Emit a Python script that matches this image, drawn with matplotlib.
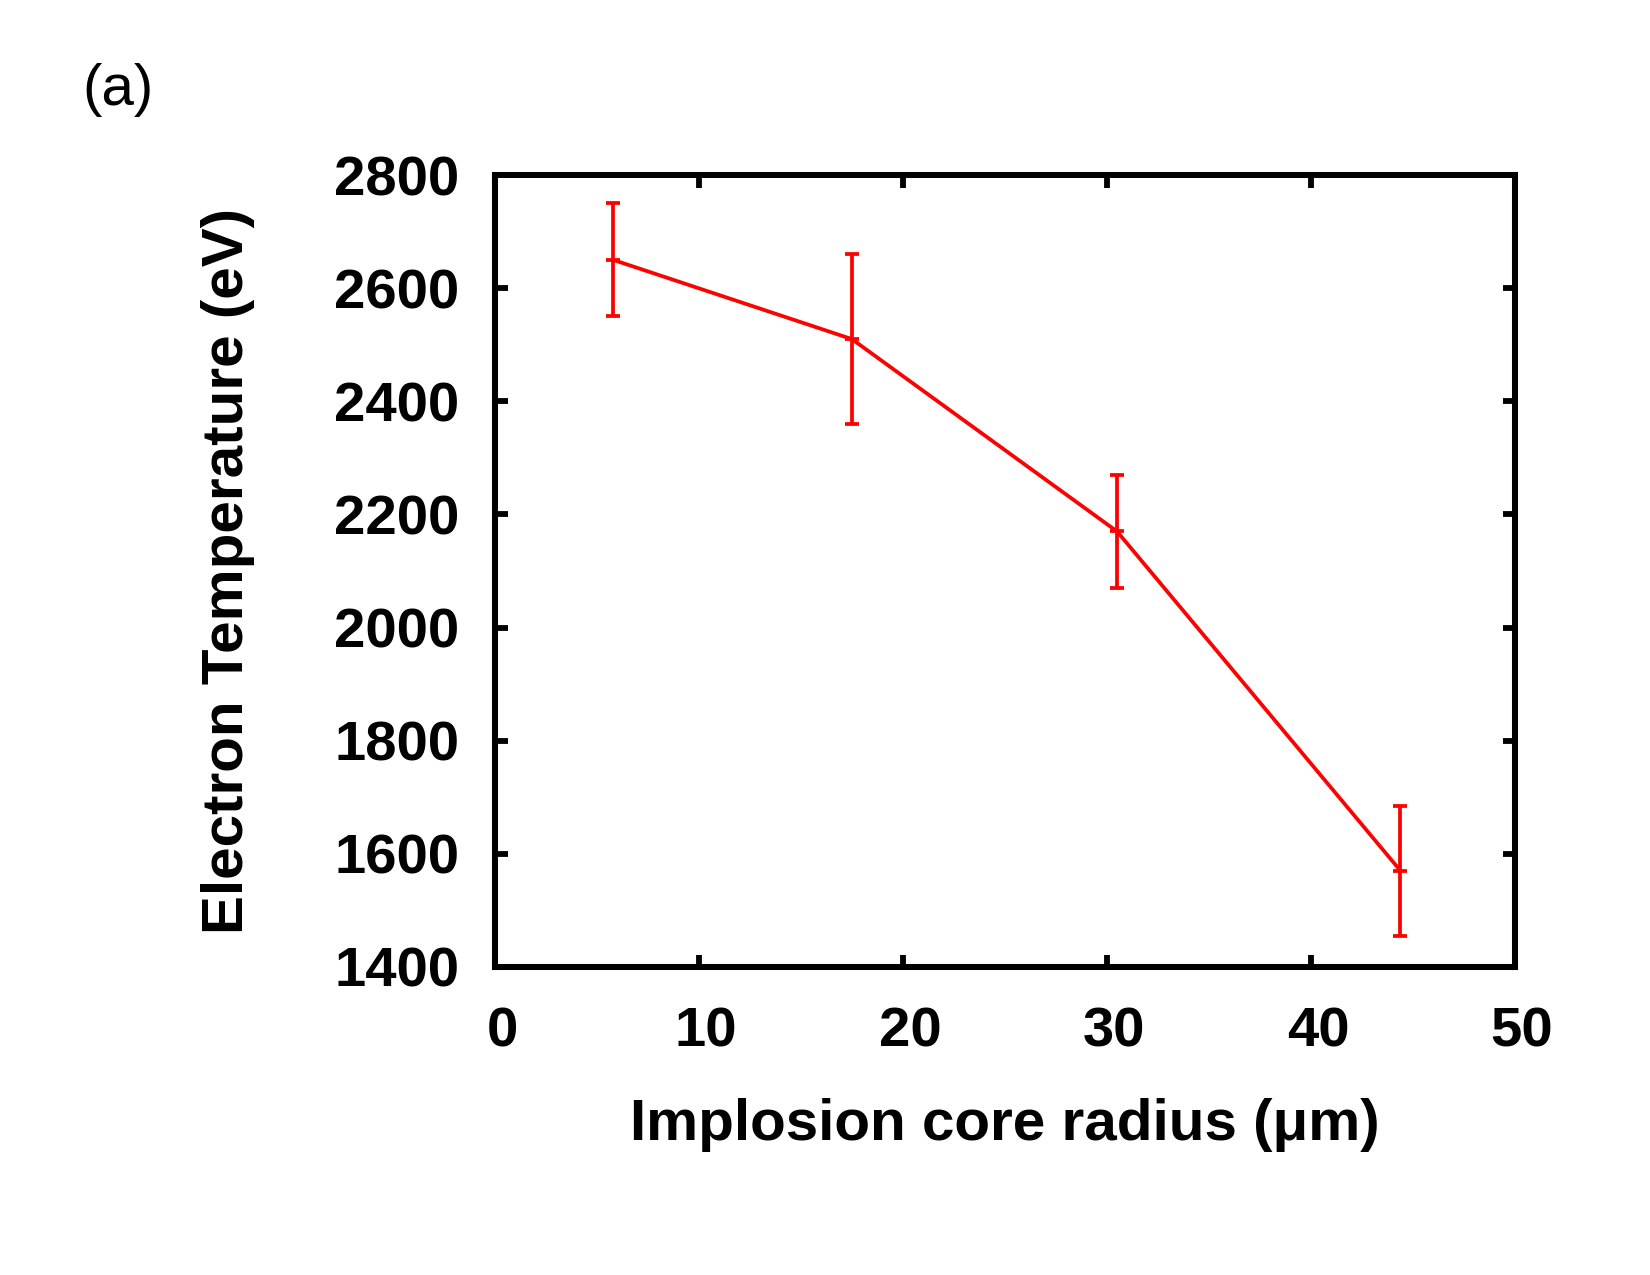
import matplotlib
matplotlib.use("Agg")
import matplotlib.pyplot as plt
import matplotlib.transforms as mtransforms

# core radius (um) vs electron temperature (eV)
radius = [5.8, 17.5, 30.5, 44.4]
temperature = [2650, 2510, 2170, 1570]
temp_err = [100, 150, 100, 115]

x_ticks = [0, 10, 20, 30, 40, 50]
y_ticks = [1400, 1600, 1800, 2000, 2200, 2400, 2600, 2800]

plt.rcParams["font.family"] = ["Liberation Sans", "DejaVu Sans"]

fig = plt.figure(figsize=(11, 8.5), dpi=150)
ax = fig.add_axes([0.3, 0.2416, 0.618, 0.6211])

ax.errorbar(radius, temperature, yerr=temp_err, color="red", lw=1.8,
            elinewidth=1.8, capsize=3.5, capthick=1.8,
            marker="_", markersize=7, markeredgewidth=1.8)

ax.set_xlim(0, 50)
ax.set_ylim(1400, 2800)
ax.set_xticks(x_ticks)
ax.set_yticks(y_ticks)
ax.tick_params(direction="in", length=6, width=2.8, top=True, right=True,
               labelsize=27, pad=17)
ax.tick_params(axis="x", pad=19)
for lab in ax.get_xticklabels() + ax.get_yticklabels():
    lab.set_fontweight("bold")
# x tick labels sit slightly right of their ticks in the original
shift = mtransforms.ScaledTranslation(3.5 / 72, 0, fig.dpi_scale_trans)
for lab in ax.get_xticklabels():
    lab.set_transform(lab.get_transform() + shift)
for sp in ax.spines.values():
    sp.set_linewidth(2.9)

ax.set_xlabel("Implosion core radius (\u03bcm)", fontsize=28, fontweight="bold", labelpad=19)
ax.set_ylabel("Electron Temperature (eV)", fontsize=28, fontweight="bold", labelpad=38)

fig.text(0.05, 0.918, "(a)", fontsize=28)

fig.savefig("out.png", dpi=150)
